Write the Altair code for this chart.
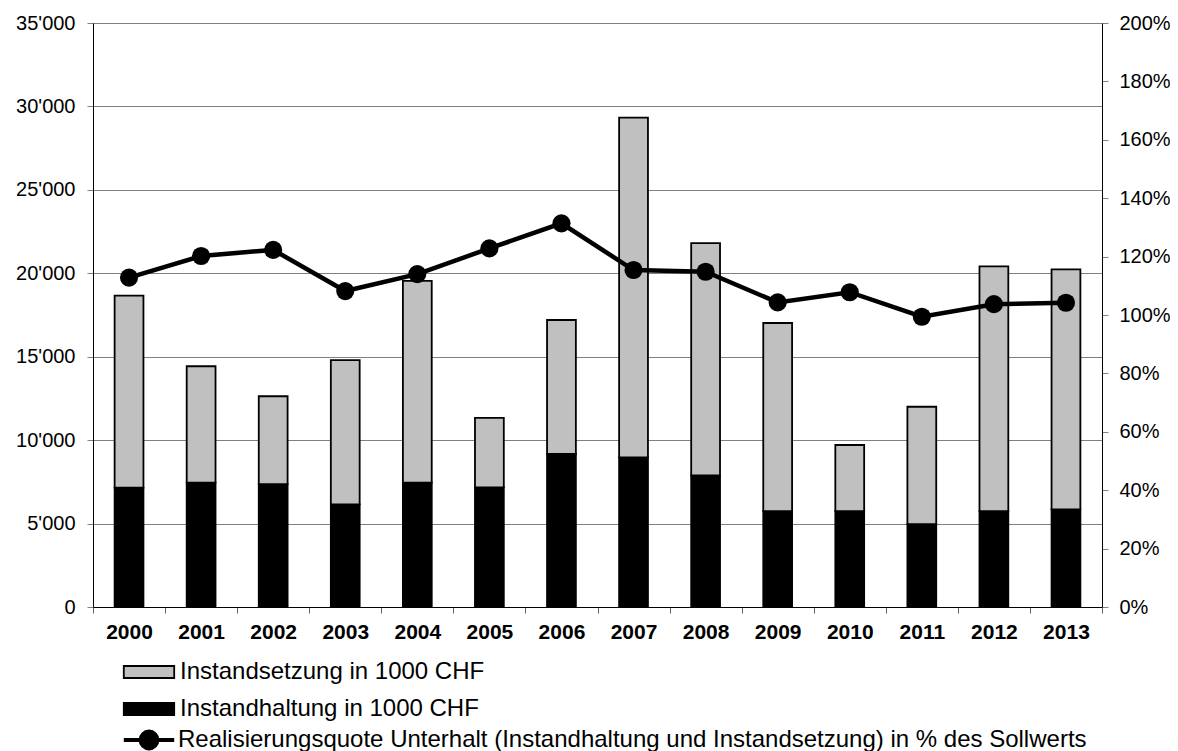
import altair as alt
import pandas as pd

years = [str(y) for y in range(2000, 2014)]
instandhaltung = [7150, 7450, 7370, 6150, 7450, 7170, 9170, 8970, 7890, 5750, 5750, 4970, 5750, 5850]
instandsetzung = [11510, 6980, 5260, 8650, 12090, 4160, 8030, 20360, 13920, 11270, 3960, 7030, 14670, 14390]
quote_pct = [112.8, 120.2, 122.3, 108.2, 114.0, 122.8, 131.4, 115.4, 114.8, 104.3, 107.8, 99.4, 103.7, 104.2]

s_label = "Instandsetzung in 1000 CHF"
h_label = "Instandhaltung in 1000 CHF"
q_label = "Realisierungsquote Unterhalt (Instandhaltung und Instandsetzung) in % des Sollwerts"

left_ticks = [0, 5000, 10000, 15000, 20000, 25000, 30000, 35000]
right_ticks = [0, 0.2, 0.4, 0.6, 0.8, 1.0, 1.2, 1.4, 1.6, 1.8, 2.0]

FONT = "Liberation Sans"

bars_df = pd.DataFrame({
    "Jahr": years * 2,
    "Reihe": [h_label] * len(years) + [s_label] * len(years),
    "Wert": instandhaltung + instandsetzung,
    "Ordnung": [0] * len(years) + [1] * len(years),
})
line_df = pd.DataFrame({
    "Jahr": years,
    "Quote": [q / 100 for q in quote_pct],
    "Reihe": [q_label] * len(years),
})

x_enc = alt.X(
    "Jahr:N",
    sort=years,
    scale=alt.Scale(paddingInner=0, paddingOuter=0),
    axis=alt.Axis(
        title=None, labelAngle=0, tickBand="extent", labelFontWeight="bold",
        labelFontSize=21, labelPadding=8, domainColor="black", tickColor="#606060",
        tickSize=6, grid=False,
    ),
)

RECT_PATH = "M-4.2,-1L4.2,-1L4.2,1L-4.2,1Z"
LINE_PATH = "M-4.2,0L4.2,0M-1.4,0A1.4,1.4,0,1,1,1.4,0A1.4,1.4,0,1,1,-1.4,0Z"

bars = alt.Chart(bars_df).mark_bar(
    width=alt.RelativeBandSize(0.4), stroke="black", strokeWidth=1.8
).encode(
    x=x_enc,
    y=alt.Y(
        "Wert:Q", stack="zero",
        scale=alt.Scale(domain=[0, 35000], nice=False),
        axis=alt.Axis(
            title=None, values=left_ticks, grid=True, gridColor="#808080",
            labelExpr="replace(format(datum.value, ','), ',', \"'\")",
            labelPadding=12, tickSize=6, tickColor="#808080", domainColor="black",
        ),
    ),
    fill=alt.Fill(
        "Reihe:N",
        scale=alt.Scale(domain=[s_label, h_label], range=["#c0c0c0", "#000000"]),
        legend=alt.Legend(
            title=None, orient="none", legendX=44, legendY=637, direction="vertical",
            symbolType=RECT_PATH, symbolSize=144,
            symbolStrokeColor="black", symbolStrokeWidth=1.8,
            labelFont=FONT, labelFontSize=24, labelColor="black", labelOffset=19,
            rowPadding=13, padding=0,
        ),
    ),
    order=alt.Order("Ordnung:Q"),
)

y_right = alt.Y(
    "Quote:Q",
    scale=alt.Scale(domain=[0, 2], nice=False),
    axis=alt.Axis(
        title=None, orient="right", values=right_ticks, format=".0%", grid=False,
        labelPadding=11, tickSize=6, tickColor="#808080", domainColor="black",
    ),
)

line = alt.Chart(line_df).mark_line(strokeWidth=4.5, color="black").encode(
    x=x_enc,
    y=y_right,
    stroke=alt.Stroke(
        "Reihe:N",
        scale=alt.Scale(range=["#000000"]),
        legend=alt.Legend(
            title=None, orient="none", legendX=44, legendY=705,
            symbolType=LINE_PATH, symbolSize=144,
            symbolStrokeColor="black", symbolStrokeWidth=4, symbolFillColor="black",
            labelFont=FONT, labelFontSize=24, labelColor="black", labelOffset=17,
            padding=0,
        ),
    ),
)

points = alt.Chart(line_df).mark_point(filled=True, size=330, color="black", opacity=1).encode(
    x=x_enc,
    y=alt.Y("Quote:Q", scale=alt.Scale(domain=[0, 2], nice=False)),
)

chart = alt.layer(bars, alt.layer(line, points)).resolve_scale(
    y="independent"
).properties(
    width=1009, height=584,
    autosize=alt.AutoSizeParams(type="none"),
    padding={"left": 85, "top": 15, "right": 68, "bottom": 144},
).configure_view(
    stroke="transparent"
).configure_axis(
    labelFont=FONT, labelFontSize=20, labelColor="black",
).configure_legend(
    labelFont=FONT, labelLimit=0,
)

chart.save("out.html", embed_options={"renderer": "svg", "actions": False})
